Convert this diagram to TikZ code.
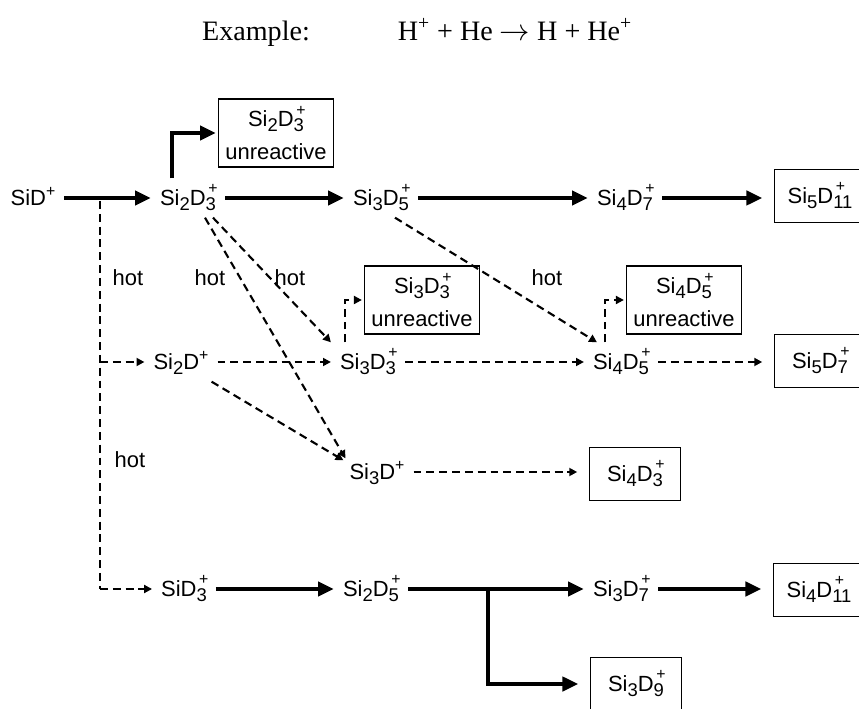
\documentclass[tikz,border=0pt]{standalone}
\usepackage{fontspec}
\setmainfont{Liberation Serif}
\newfontfamily\ionfont{Liberation Sans}
\usetikzlibrary{arrows.meta,calc}

% lowered counts and charge marks of the ions
\newcommand{\lo}[1]{\raisebox{-3pt}{\fontsize{10.5}{10}\selectfont #1}}
\newcommand{\lop}[1]{\rlap{\raisebox{6.5pt}{\fontsize{9}{9}\selectfont\,+}}\lo{#1}}
\newcommand{\hip}{\raisebox{5pt}{\fontsize{9}{9}\selectfont +}}

\begin{document}
\begin{tikzpicture}[x=0.02cm, y=-0.02cm,
    fnt/.style={font=\ionfont\fontsize{12.5}{19}\selectfont},
    ion/.style={fnt, text height=12pt, text depth=4pt, inner xsep=5pt, inner ysep=3pt},
    endbox/.style={ion, draw, line width=1pt, minimum width=1.82cm, minimum height=1.06cm, outer xsep=7pt},
    deadbox/.style={fnt, draw, line width=1pt, align=center, minimum width=2.3cm, minimum height=1.36cm, outer sep=1.5pt},
    lab/.style={fnt, inner sep=1pt},
    thk/.style={line width=2.4pt, -{Triangle[length=9pt,width=8pt]}},
    dsh/.style={line width=1.2pt, dash pattern=on 4.5pt off 2.8pt},
    dshar/.style={dsh, -{Triangle[length=4.5pt,width=4.5pt]}}]
    \useasboundingbox (0,0) rectangle (859,709);

    % title
    \node[anchor=base, font=\fontsize{16}{19}\selectfont] (exlabel) at (256,41) {Example:};
    \node[anchor=base, font=\fontsize{16}{19}\selectfont] (exeq) at (515,41) {H\textsuperscript{+} + He $\rightarrow$ H + He\textsuperscript{+}};

    % ions, row by row
    \node[ion] (sid) at (33,198) {SiD\hip};
    \node[ion] (si2d3) at (188,198) {Si\lo{2}D\lop{3}};
    \node[ion] (si3d5) at (381,198) {Si\lo{3}D\lop{5}};
    \node[ion] (si4d7) at (625,198) {Si\lo{4}D\lop{7}};
    \node[endbox] (si5d11) at (820,196) {Si\lo{5}D\lop{11}};
    \node[deadbox] (si2d3u) at (276,133) {Si\lo{2}D\lop{3}\\unreactive};

    \node[ion] (si2d) at (181,362) {Si\lo{2}D\hip};
    \node[ion] (si3d3) at (368,362) {Si\lo{3}D\lop{3}};
    \node[ion] (si4d5) at (621,362) {Si\lo{4}D\lop{5}};
    \node[endbox] (si5d7) at (820,361) {Si\lo{5}D\lop{7}};
    \node[deadbox] (si3d3u) at (422,300) {Si\lo{3}D\lop{3}\\unreactive};
    \node[deadbox] (si4d5u) at (684,300) {Si\lo{4}D\lop{5}\\unreactive};

    \node[ion] (si3d) at (377,472) {Si\lo{3}D\hip};
    \node[endbox] (si4d3) at (635,474) {Si\lo{4}D\lop{3}};

    \node[ion] (sid3) at (184,589) {SiD\lop{3}};
    \node[ion] (si2d5) at (371,589) {Si\lo{2}D\lop{5}};
    \node[ion] (si3d7) at (621,589) {Si\lo{3}D\lop{7}};
    \node[endbox] (si4d11) at (819,590) {Si\lo{4}D\lop{11}};
    \node[endbox] (si3d9) at (636,684) {Si\lo{3}D\lop{9}};

    \coordinate (hottop) at (100,201);
    \coordinate (hotbot) at (100,589);
    \coordinate (fork) at (488,589);

    \foreach \x/\y in {128/278, 210/278, 290/278, 547/278, 130/460} {
        \node[lab] (hot-\x-\y) at (\x,\y) {hot};
    }

    % cold growth
    \draw[thk] (sid) -- (si2d3);
    \draw[thk] (si2d3) -- (si3d5);
    \draw[thk] (si3d5) -- (si4d7);
    \draw[thk] (si4d7) -- (si4d7 -| si5d11.west);
    \draw[thk] ($(si2d3.north west)+(21,0)$) |- (si2d3u);
    \draw[thk] (sid3) -- (si2d5);
    \draw[thk] (si2d5) -- (si3d7);
    \draw[thk] (fork) |- (si3d9);
    \draw[thk] (si3d7) -- (si3d7 -| si4d11.west);

    % hot channels
    \draw[dsh] (hottop) -- (hotbot);
    \draw[dshar] (hottop |- si2d) -- (si2d);
    \draw[dshar] (hotbot) -- (sid3);
    \draw[dshar] ($(si2d3.south)+(25,0)$) -- (si3d3.north west);
    \draw[dshar] ($(si2d3.south)+(17,0)$) -- ($(si3d.north west)+(5,6)$);
    \draw[dshar] (si2d) -- (si3d3);
    \draw[dshar] ($(si2d.south east)+(-6,0)$) -- ($(si3d.north west)+(3,8)$);
    \draw[dshar] ($(si3d5.south)+(14,0)$) -- ($(si4d5.north)+(-24,0)$);
    \draw[dshar] ($(si3d3.north west)+(14,0)$) |- (si3d3u);
    \draw[dshar] ($(si4d5.north west)+(21,0)$) |- (si4d5u);
    \draw[dshar] (si3d3) -- (si4d5);
    \draw[dshar] (si4d5) -- (si4d5 -| si5d7.west);
    \draw[dshar] (si3d) -- (si3d -| si4d3.west);
\end{tikzpicture}
\end{document}
